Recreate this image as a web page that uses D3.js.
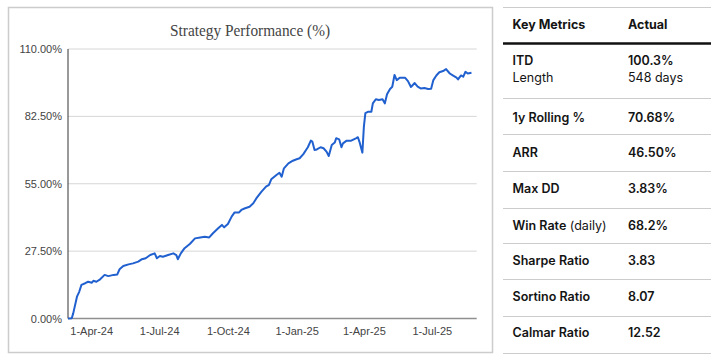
<!DOCTYPE html>
<html>
<head>
<meta charset="utf-8">
<script src="https://cdn.jsdelivr.net/npm/d3@7"></script>
<style>
  html, body { margin: 0; padding: 0; background: #fff; }
  svg { display: block; }
</style>
</head>
<body>
<svg id="chart" width="711" height="363"></svg>
<script>
// ---------- DATA ----------
const chartTitle = "Strategy Performance (%)";
const dates = [
  "2024-03-01","2024-03-06","2024-03-08","2024-03-13","2024-03-16","2024-03-19","2024-03-24","2024-03-28",
  "2024-04-02","2024-04-04","2024-04-08","2024-04-13","2024-04-19","2024-04-24","2024-05-01","2024-05-06",
  "2024-05-09","2024-05-14","2024-05-21","2024-05-27","2024-06-03","2024-06-08","2024-06-13","2024-06-19",
  "2024-06-25","2024-06-28","2024-07-02","2024-07-06","2024-07-13","2024-07-20","2024-07-24","2024-07-26",
  "2024-07-30","2024-08-04","2024-08-11","2024-08-18","2024-08-25","2024-08-31","2024-09-06","2024-09-11",
  "2024-09-18","2024-09-23","2024-09-26","2024-10-01","2024-10-06","2024-10-10","2024-10-16","2024-10-19",
  "2024-10-24","2024-10-30","2024-11-04","2024-11-08","2024-11-15","2024-11-21","2024-11-25","2024-11-28",
  "2024-12-05","2024-12-09","2024-12-12","2024-12-15","2024-12-21","2024-12-27","2025-01-01","2025-01-05",
  "2025-01-10","2025-01-14","2025-01-16","2025-01-20","2025-01-22","2025-01-25","2025-01-28","2025-02-02",
  "2025-02-06","2025-02-10","2025-02-13","2025-02-17","2025-02-21","2025-02-23","2025-02-27","2025-03-02",
  "2025-03-04","2025-03-09","2025-03-15","2025-03-22","2025-03-24","2025-03-26","2025-03-30","2025-04-01",
  "2025-04-03","2025-04-07","2025-04-11","2025-04-13","2025-04-17","2025-04-21","2025-04-26","2025-04-29",
  "2025-05-02","2025-05-06","2025-05-09","2025-05-12","2025-05-15","2025-05-19","2025-05-26","2025-05-30",
  "2025-06-03","2025-06-08","2025-06-12","2025-06-16","2025-06-21","2025-06-26","2025-06-30","2025-07-03",
  "2025-07-07","2025-07-11","2025-07-16","2025-07-20","2025-07-25","2025-07-29","2025-08-03","2025-08-05",
  "2025-08-09","2025-08-12","2025-08-15","2025-08-18","2025-08-23"
];
const performance = [
  0.0, 0.1, 2.1, 8.9, 10.9, 13.7, 14.4, 15.0,
  14.6, 15.4, 15.0, 16.0, 17.8, 17.3, 17.8, 18.0,
  20.1, 21.4, 22.1, 22.5, 23.2, 24.2, 24.6, 25.9,
  26.6, 24.6, 25.5, 25.2, 25.9, 26.6, 25.9, 24.2,
  26.6, 28.7, 30.4, 32.7, 33.1, 33.4, 33.1, 34.8,
  36.8, 38.2, 37.2, 38.6, 41.6, 43.3, 43.3, 44.3,
  45.0, 45.6, 47.0, 49.0, 51.8, 53.8, 54.5, 56.8,
  58.6, 59.5, 57.9, 61.3, 63.3, 64.4, 65.0, 65.4,
  67.1, 69.0, 69.9, 72.6, 72.2, 68.8, 69.0, 69.9,
  69.5, 68.1, 66.3, 70.8, 71.8, 73.6, 73.1, 69.9,
  71.5, 72.6, 72.6, 73.6, 74.0, 72.2, 67.7, 78.3,
  83.8, 84.4, 84.4, 87.8, 89.5, 89.2, 89.5, 87.8,
  91.5, 93.7, 94.6, 99.4, 97.3, 98.3, 98.3, 96.9,
  94.5, 96.1, 94.6, 93.9, 94.1, 93.7, 93.8, 97.3,
  99.2, 100.5, 101.0, 101.8, 100.0, 99.2, 98.3, 97.6,
  99.2, 98.7, 100.7, 100.0, 100.3
];
const yTicks = [0, 27.5, 55, 82.5, 110];
const xTickDates = ["2024-04-01","2024-07-01","2024-10-01","2025-01-01","2025-04-01","2025-07-01"];
const xDomain = ["2024-03-01","2025-08-30"];

const metricLabels = ["ITD", "1y Rolling %", "ARR", "Max DD", "Win Rate", "Sharpe Ratio", "Sortino Ratio", "Calmar Ratio"];
const metricValues = ["100.3%", "70.68%", "46.50%", "3.83%", "68.2%", "3.83", "8.07", "12.52"];
const metricHeaders = ["Key Metrics", "Actual"];
const lengthLabel = "Length";
const lengthValue = "548 days";
const winRateSuffix = " (daily)";

// ---------- DRAW ----------
const parse = d3.timeParse("%Y-%m-%d");
const data = dates.map((d, i) => ({ date: parse(d), value: performance[i] }));
const svg = d3.select("#chart");

svg.append("rect").attr("width", 711).attr("height", 363).attr("fill", "#fff");

// Chart frame
svg.append("rect")
  .attr("x", 8.5).attr("y", 7.5).attr("width", 484).attr("height", 345)
  .attr("fill", "#fff").attr("stroke", "#cccccc").attr("stroke-width", 1.5);

const plot = { left: 68, right: 476.7, top: 49, bottom: 318.5 };

const x = d3.scaleTime().domain(xDomain.map(parse)).range([plot.left, plot.right]);
const y = d3.scaleLinear().domain([0, 110]).range([plot.bottom, plot.top]);

// gridlines
svg.append("g")
  .selectAll("line")
  .data(yTicks.filter(t => t > 0))
  .join("line")
  .attr("x1", plot.left).attr("x2", plot.right)
  .attr("y1", d => y(d)).attr("y2", d => y(d))
  .attr("stroke", "#d6d6d6").attr("stroke-width", 1);

// y axis
const yAxis = d3.axisLeft(y).tickValues(yTicks).tickSize(0).tickPadding(6)
  .tickFormat(d => d3.format(".2f")(d) + "%");
const gy = svg.append("g").attr("transform", `translate(${plot.left},0)`).call(yAxis);
gy.select(".domain").remove();
gy.selectAll("text")
  .attr("font-family", "Liberation Sans, Arial, sans-serif")
  .attr("font-size", 11).attr("fill", "#444");

// x axis
const xAxis = d3.axisBottom(x).tickValues(xTickDates.map(parse)).tickSize(0).tickPadding(9)
  .tickFormat(d => d3.timeFormat("%-d-%b-%y")(d));
const gx = svg.append("g").attr("transform", `translate(0,${plot.bottom})`).call(xAxis);
gx.select(".domain").remove();
gx.selectAll("text")
  .attr("font-family", "Liberation Sans, Arial, sans-serif")
  .attr("font-size", 11).attr("fill", "#444");

// baseline
svg.append("line")
  .attr("x1", plot.left).attr("x2", plot.right)
  .attr("y1", y(0)).attr("y2", y(0))
  .attr("stroke", "#8f8f8f").attr("stroke-width", 1.5);
// left axis line
svg.append("line")
  .attr("x1", plot.left).attr("x2", plot.left)
  .attr("y1", plot.top).attr("y2", plot.bottom)
  .attr("stroke", "#333").attr("stroke-width", 1);

// line
const line = d3.line().x(d => x(d.date)).y(d => y(d.value)).curve(d3.curveLinear);
svg.append("path").datum(data)
  .attr("d", line)
  .attr("fill", "none").attr("stroke", "#2160cf").attr("stroke-width", 2)
  .attr("stroke-linejoin", "round");

// title
svg.append("text")
  .attr("x", 250).attr("y", 36).attr("text-anchor", "middle")
  .attr("font-family", "Liberation Serif, Times New Roman, serif")
  .attr("font-size", 17).attr("fill", "#444")
  .attr("textLength", 160).attr("lengthAdjust", "spacingAndGlyphs")
  .text(chartTitle);

// ---------- TABLE ----------
const tx0 = 503, tx1 = 711, col1 = 512.5, col2 = 628;
const font = "Inter, 'Open Sans', sans-serif";
const fs = 12.5;
const ink = "#141414";

svg.append("line").attr("x1", tx0).attr("x2", tx1).attr("y1", 7.5).attr("y2", 7.5)
  .attr("stroke", "#cccccc").attr("stroke-width", 1.2);
svg.append("line").attr("x1", tx0).attr("x2", tx1).attr("y1", 43.5).attr("y2", 43.5)
  .attr("stroke", "#111").attr("stroke-width", 2.4);

svg.append("text").attr("x", col1).attr("y", 29).text(metricHeaders[0])
  .attr("font-family", font).attr("font-size", fs).attr("font-weight", 700).attr("fill", ink);
svg.append("text").attr("x", col2).attr("y", 29).text(metricHeaders[1])
  .attr("font-family", font).attr("font-size", fs).attr("font-weight", 700).attr("fill", ink);

const rowBaselines = [65, 121.5, 157, 193, 230, 265, 300.7, 336.7];
const sepLines = [98, 134, 171, 208, 243, 279, 316, 353];

svg.append("g").selectAll("line").data(sepLines).join("line")
  .attr("x1", tx0).attr("x2", tx1)
  .attr("y1", d => d + 0.5).attr("y2", d => d + 0.5)
  .attr("stroke", "#cccccc").attr("stroke-width", 1.2);

metricLabels.forEach((lab, i) => {
  const t = svg.append("text").attr("x", col1).attr("y", rowBaselines[i])
    .attr("font-family", font).attr("font-size", fs).attr("fill", ink);
  t.append("tspan").attr("font-weight", 600).text(lab);
  if (lab === "Win Rate") t.append("tspan").attr("font-weight", 400).text(winRateSuffix);
  svg.append("text").attr("x", col2).attr("y", rowBaselines[i])
    .attr("font-family", font).attr("font-size", fs).attr("font-weight", 600).attr("fill", ink)
    .text(metricValues[i]);
});
svg.append("text").attr("x", col1).attr("y", 82).text(lengthLabel)
  .attr("font-family", font).attr("font-size", fs).attr("font-weight", 400).attr("fill", ink);
svg.append("text").attr("x", col2).attr("y", 82).text(lengthValue)
  .attr("font-family", font).attr("font-size", fs).attr("font-weight", 400).attr("fill", ink);
</script>
</body>
</html>
